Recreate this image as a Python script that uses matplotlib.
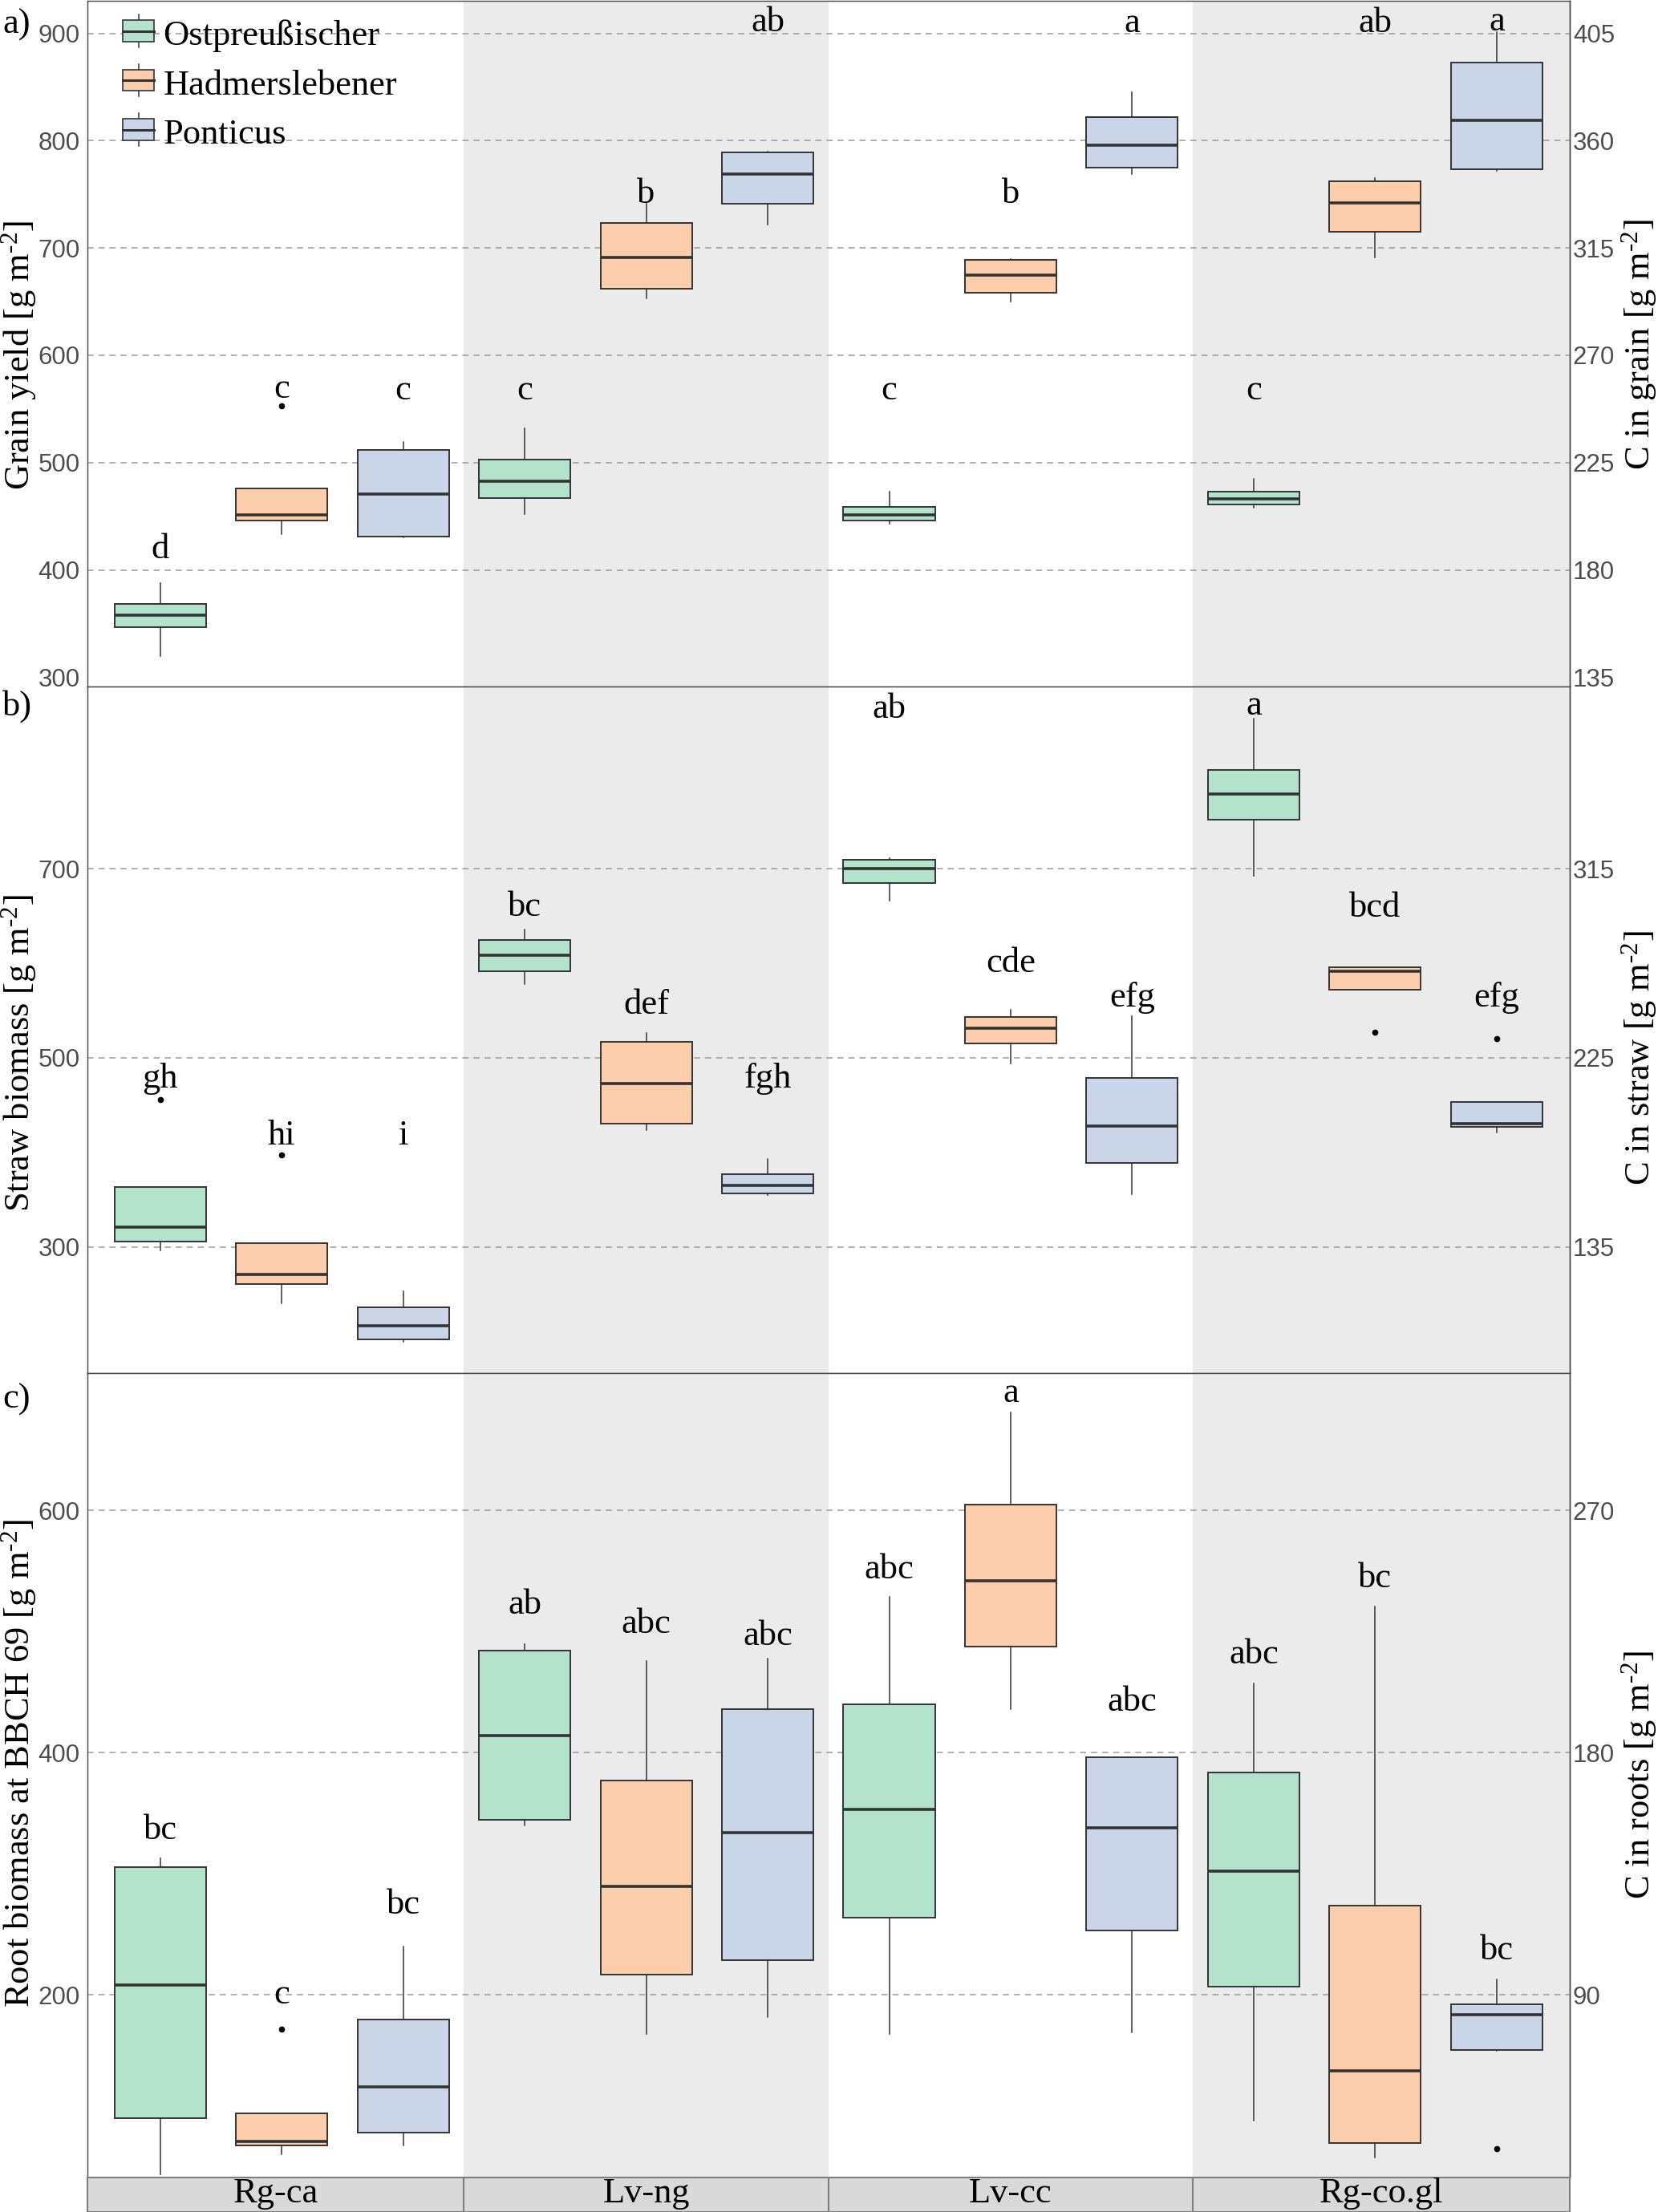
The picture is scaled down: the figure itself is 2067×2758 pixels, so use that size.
import matplotlib
matplotlib.use("Agg")
import matplotlib.pyplot as plt
from matplotlib.patches import Rectangle
from matplotlib.lines import Line2D
from matplotlib.ticker import FormatStrFormatter

plt.rcParams['font.family'] = ['Liberation Sans', 'DejaVu Sans']
plt.rcParams['mathtext.fontset'] = 'custom'
plt.rcParams['mathtext.rm'] = 'Liberation Serif'
plt.rcParams['mathtext.it'] = 'Liberation Serif:italic'
plt.rcParams['mathtext.bf'] = 'Liberation Serif:bold'
SERIF = ['Liberation Serif', 'DejaVu Serif']

# ---------------- data ----------------
soils = ["Rg-ca", "Lv-ng", "Lv-cc", "Rg-co.gl"]
varieties = ["Ostpreußischer", "Hadmerslebener", "Ponticus"]
colors = ["#B3E2CD", "#FDCDAC", "#CBD5E8"]
c_factor = 0.45

# a) grain yield (order: soil-major, variety-minor)
grain_whislo = [320, 433, 430, 452, 653, 722, 443, 650, 769, 458, 691, 772]
grain_q1     = [347, 446, 431, 467, 662, 741, 446, 658, 775, 461, 715, 773]
grain_med    = [358, 451, 471, 483, 691, 769, 451, 675, 796, 466, 742, 819]
grain_q3     = [368, 476, 512, 503, 723, 789, 459, 689, 822, 473, 762, 873]
grain_whishi = [388, 476, 519, 532, 741, 790, 473, 690, 845, 485, 765, 901]
grain_outliers = {1: [553]}
grain_letters = ['d', 'c', 'c', 'c', 'b', 'ab', 'c', 'b', 'a', 'c', 'ab', 'a']
grain_letter_y = [411, 560, 559, 559, 742, 902, 559, 742, 901, 559, 901, 903]
grain_ticks = [300, 400, 500, 600, 700, 800, 900]
grain_grid = [400, 500, 600, 700, 800, 900]

# b) straw biomass
straw_whislo = [296, 240, 200, 578, 424, 355, 666, 494, 356, 693, 572, 421]
straw_q1     = [306, 261, 202, 592, 430, 357, 685, 515, 389, 752, 572, 427]
straw_med    = [321, 271, 217, 609, 473, 365, 700, 531, 428, 779, 592, 430]
straw_q3     = [363, 304, 236, 625, 517, 377, 710, 543, 479, 805, 596, 453]
straw_whishi = [363, 304, 253, 636, 526, 393, 711, 551, 544, 859, 596, 453]
straw_outliers = {0: [456], 1: [397], 10: [527], 11: [520]}
straw_letters = ['gh', 'hi', 'i', 'bc', 'def', 'fgh', 'ab', 'cde', 'efg', 'a', 'bcd', 'efg']
straw_letter_y = [469, 408, 408, 650, 547, 469, 860, 591, 554, 863, 649, 554]
straw_ticks = [300, 500, 700]
straw_grid = [300, 500, 700]

# c) root biomass at BBCH 69
root_whislo = [52, 68.5, 76, 340, 168, 182, 168, 436, 169, 96, 66, 154]
root_q1     = [98, 75.6, 86, 344.5, 217, 229, 264, 488, 253, 207, 78, 154.4]
root_med    = [208.5, 78.7, 124, 414, 289.5, 334, 353, 542, 338, 302, 137, 183.4]
root_q3     = [305.6, 102.5, 179.4, 484.6, 377, 436, 440, 605, 396, 384, 274, 192.4]
root_whishi = [313, 102.5, 240, 490, 476, 478, 529, 681, 396, 457, 521, 213]
root_outliers = {1: [172], 11: [73]}
root_letters = ['bc', 'c', 'bc', 'ab', 'abc', 'abc', 'abc', 'a', 'abc', 'abc', 'bc', 'bc']
root_letter_y = [329, 193, 267, 515, 499, 489, 544, 689.5, 435, 474, 537, 229.5]
root_ticks = [200, 400, 600]
root_grid = [200, 400, 600]

# ---------------- layout ----------------
W, H = 2067, 2758
fig = plt.figure(figsize=(W / 100, H / 100), dpi=100)


def fx(px):
    return px / W


def fy(py):
    return 1 - py / H


LEFT, RIGHT = 109.4, 1956.6
XLIM = (0.468, 4.533)
OFFSETS = [-1 / 3, 0, 1 / 3]
BOX_W = 0.251
BAND = "#EBEBEB"
GRID = "#9A9A9A"
EDGE = "#333333"
SPINE = "#444444"
TICKCOL = "#4D4D4D"


def make_axes(top, bottom):
    return fig.add_axes([fx(LEFT), fy(bottom), fx(RIGHT) - fx(LEFT), (bottom - top) / H])


def draw_panel(ax, whislo, q1, med, q3, whishi, outliers, letters, letter_y,
               ylim, ticks, grid):
    ax.set_xlim(XLIM)
    ax.set_ylim(ylim)
    ax.axvspan(1.5, 2.5, color=BAND, lw=0, zorder=0)
    ax.axvspan(3.5, XLIM[1], color=BAND, lw=0, zorder=0)
    for g in grid:
        ax.axhline(g, color=GRID, lw=1.1, ls=(0, (5, 4)), zorder=1)
    stats, positions = [], []
    for i in range(len(med)):
        s, v = divmod(i, 3)
        positions.append(s + 1 + OFFSETS[v])
        stats.append(dict(whislo=whislo[i], q1=q1[i], med=med[i], q3=q3[i],
                          whishi=whishi[i], fliers=outliers.get(i, [])))
    bp = ax.bxp(stats, positions=positions, widths=BOX_W, patch_artist=True,
                showcaps=False, manage_ticks=False, zorder=2,
                boxprops=dict(edgecolor=EDGE, linewidth=1.4),
                medianprops=dict(color=EDGE, linewidth=2.6),
                whiskerprops=dict(color=EDGE, linewidth=1.1),
                flierprops=dict(marker='o', markersize=4.5, markerfacecolor='black',
                                markeredgecolor='black', linestyle='none'))
    for i, patch in enumerate(bp['boxes']):
        patch.set_facecolor(colors[i % 3])
    for pos, lab, y in zip(positions, letters, letter_y):
        ax.text(pos, y, lab, ha='center', va='baseline', fontsize=32,
                family=SERIF, color='black', zorder=3)
    ax.set_xticks([])
    ax.set_yticks(ticks)
    ax.tick_params(axis='y', length=0, pad=7, labelsize=22.5, labelcolor=TICKCOL)
    for sp in ax.spines.values():
        sp.set_color(SPINE)
        sp.set_linewidth(1.0)
    sec = ax.secondary_yaxis('right', functions=(lambda v: v * c_factor,
                                                 lambda v: v / c_factor))
    sec.set_yticks([t * c_factor for t in ticks])
    sec.yaxis.set_major_formatter(FormatStrFormatter('%.0f'))
    sec.tick_params(axis='y', length=0, pad=3, labelsize=22.5, labelcolor=TICKCOL)
    sec.spines['right'].set_color(SPINE)
    sec.spines['right'].set_linewidth(1.0)
    return ax


ax_a = make_axes(1.0, 856.3)
draw_panel(ax_a, grain_whislo, grain_q1, grain_med, grain_q3, grain_whishi,
           grain_outliers, grain_letters, grain_letter_y, (291.1, 930.3),
           grain_ticks, grain_grid)

ax_b = make_axes(856.3, 1711.8)
draw_panel(ax_b, straw_whislo, straw_q1, straw_med, straw_q3, straw_whishi,
           straw_outliers, straw_letters, straw_letter_y, (166.7, 892.6),
           straw_ticks, straw_grid)

ax_c = make_axes(1711.8, 2715.0)
draw_panel(ax_c, root_whislo, root_q1, root_med, root_q3, root_whishi,
           root_outliers, root_letters, root_letter_y, (49.2, 713.7),
           root_ticks, root_grid)

# strip with soil names
ax_s = make_axes(2715.0, 2757.5)
ax_s.set_xlim(XLIM)
ax_s.set_ylim(0, 1)
ax_s.axis('off')
bounds = [XLIM[0], 1.5, 2.5, 3.5, XLIM[1]]
for k, soil in enumerate(soils):
    ax_s.add_patch(Rectangle((bounds[k], 0), bounds[k + 1] - bounds[k], 1,
                             facecolor='#D9D9D9', edgecolor='#7F7F7F', lw=1.5,
                             clip_on=False))
    ax_s.text((bounds[k] + bounds[k + 1]) / 2, 0.26, soil, ha='center', va='baseline',
              fontsize=32, family=SERIF, color='black', clip_on=True)

# axis titles
SUP = r'$^{\text{-2}}$'
left_titles = [('Grain yield [g m' + SUP + ']', 442.6),
               ('Straw biomass [g m' + SUP + ']', 1313.4),
               ('Root biomass at BBCH 69 [g m' + SUP + ']', 2198.6)]
right_titles = [('C in grain [g m' + SUP + ']', 430.0),
                ('C in straw [g m' + SUP + ']', 1319.0),
                ('C in roots [g m' + SUP + ']', 2212.8)]
for t, y in left_titles:
    fig.text(fx(24), fy(y), t, rotation=90, ha='center', va='center',
             fontsize=32, family=SERIF, color='black')
for t, y in right_titles:
    fig.text(fx(2043.5), fy(y), t, rotation=90, ha='center', va='center',
             fontsize=32, family=SERIF, color='black')

# panel tags
for tag, y in [('a)', 41.5), ('b)', 891.5), ('c)', 1756.0)]:
    fig.text(fx(3), fy(y), tag, ha='left', va='baseline', fontsize=32,
             family=SERIF, color='black')

# legend (boxplot keys)
key_cx, key_w, key_h, whisk = 172.5, 38.4, 26.7, 20.3
for k, (name, col) in enumerate(zip(varieties, colors)):
    ky = [38.5, 100.0, 161.5][k]
    fig.add_artist(Line2D([fx(key_cx), fx(key_cx)], [fy(ky - whisk), fy(ky + whisk)],
                          color=EDGE, lw=1.1, zorder=4))
    fig.add_artist(Rectangle((fx(key_cx - key_w / 2), fy(ky + key_h / 2)),
                             key_w / W, key_h / H, transform=fig.transFigure,
                             facecolor=col, edgecolor=EDGE, lw=1.2, zorder=5))
    fig.add_artist(Line2D([fx(key_cx - key_w / 2), fx(key_cx + key_w / 2)], [fy(ky), fy(ky)],
                          color=EDGE, lw=2.2, zorder=6))
    fig.text(fx(203.3), fy(ky + 17.7), name, ha='left', va='baseline', fontsize=32,
             family=SERIF, color='black', zorder=6)

fig.savefig("out.png", dpi=100)
